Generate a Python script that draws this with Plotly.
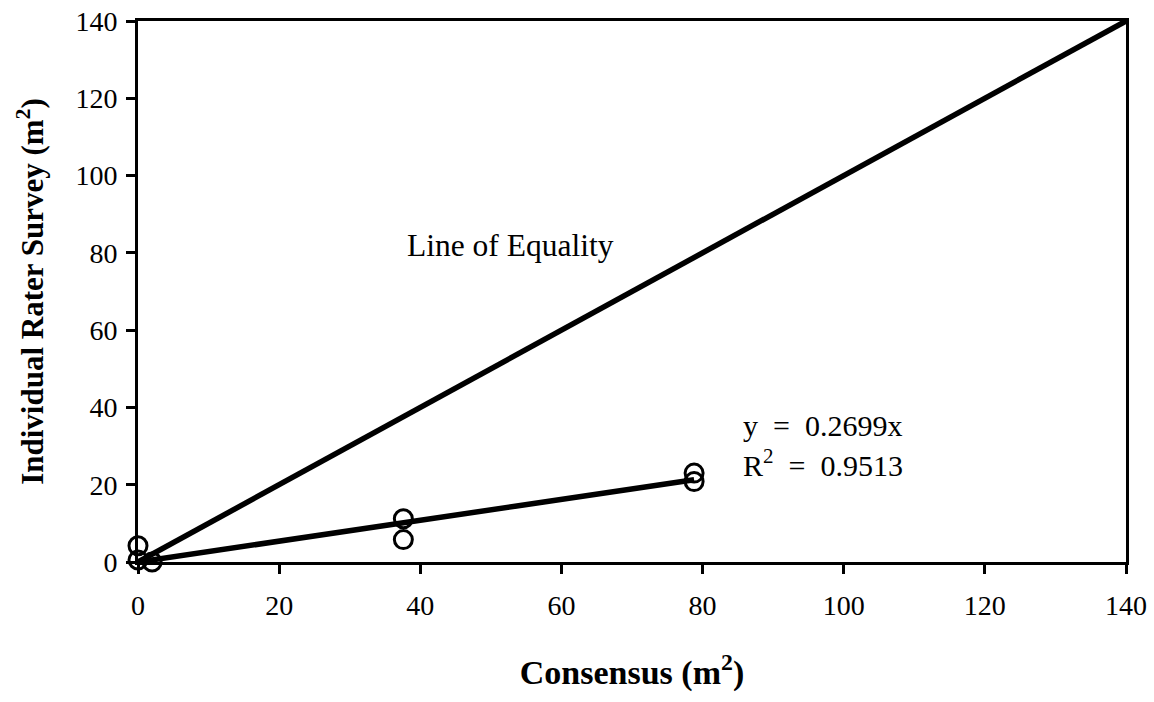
import plotly.graph_objects as go

# Data
consensus = [0, 0, 2, 37.6, 37.6, 78.8, 78.8]
rater = [4.2, 0.5, 0, 11.2, 5.8, 23.0, 20.8]
slope = 0.2699
fit_x = [0, 78.8]
eq_x = [0, 140]
x_ticks = [0, 20, 40, 60, 80, 100, 120, 140]
y_ticks = [0, 20, 40, 60, 80, 100, 120, 140]

FONT = "Liberation Serif"

fig = go.Figure()
fig.add_trace(go.Scatter(x=eq_x, y=eq_x, mode="lines",
                         line=dict(color="black", width=5.5), showlegend=False, cliponaxis=False))
fig.add_trace(go.Scatter(x=fit_x, y=[slope * v for v in fit_x], mode="lines",
                         line=dict(color="black", width=5.5), showlegend=False, cliponaxis=False))
fig.add_trace(go.Scatter(x=consensus, y=rater, mode="markers",
                         marker=dict(symbol="circle-open", size=18, color="black",
                                     line=dict(width=3, color="black")),
                         showlegend=False, cliponaxis=False))

axis_common = dict(showgrid=False, zeroline=False, showline=True, linecolor="black",
                   linewidth=3, mirror=True, ticks="outside", ticklen=9, tickwidth=3,
                   tickcolor="black", ticklabeloverflow="allow", automargin=False,
                   tickfont=dict(family=FONT, size=28, color="black"))

fig.update_xaxes(range=[0, 140], tickvals=x_ticks, ticklabelstandoff=7, **axis_common,
                 title=dict(text="<b>Consensus (m<sup>2</sup>)</b>",
                            font=dict(family=FONT, size=34, color="black"), standoff=41))
fig.update_yaxes(range=[0, 140], tickvals=y_ticks, ticklabelstandoff=3, **axis_common,
                 title=dict(text="<b>Individual Rater Survey (m<sup>2</sup>)</b>",
                            font=dict(family=FONT, size=31, color="black"), standoff=23))

ann_font = dict(family=FONT, size=30, color="black")
fig.add_annotation(x=37.9, y=82, text="Line of Equality", showarrow=False,
                   xanchor="left", yanchor="middle",
                   font=dict(family=FONT, size=31.5, color="black"))
fig.add_annotation(x=85.4, y=35.4, text="y  =  0.2699x", showarrow=False,
                   xanchor="left", yanchor="middle", font=ann_font)
fig.add_annotation(x=85.4, y=25.6, text="R<sup>2</sup>  =  0.9513", showarrow=False,
                   xanchor="left", yanchor="middle", font=ann_font)

fig.update_layout(width=1154, height=702, plot_bgcolor="white", paper_bgcolor="white",
                  margin=dict(l=138, r=28, t=21, b=140, autoexpand=False))

fig.write_html("out.html", config={"displayModeBar": False},
               post_script="document.body.style.margin='0';")
